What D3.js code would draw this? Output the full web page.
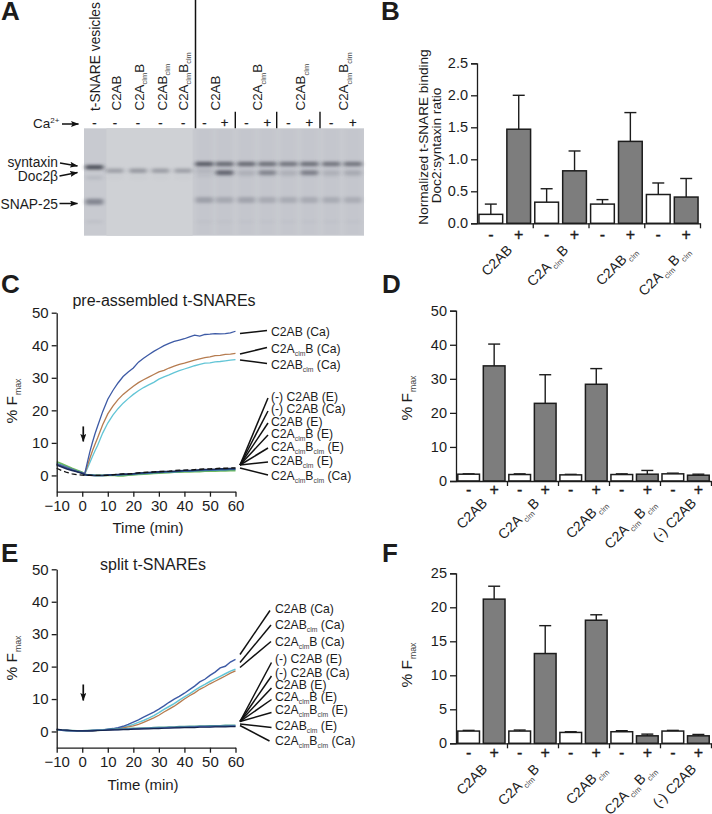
<!DOCTYPE html>
<html><head><meta charset="utf-8">
<script src="https://d3js.org/d3.v7.min.js"></script>
<style>
html,body{margin:0;padding:0;background:#fff}
svg{display:block}
text{font-family:"Liberation Sans",Arial,sans-serif;fill:#1c1c1c}
</style></head><body><svg id="fig" width="712" height="814"></svg>
<script>
// ---------- data ----------
const signs = ["-","+"];
const groupsB = ["C2AB","C2A_clm_B","C2AB_clm_","C2A_clm_B_clm_"];
const groupsDF = ["C2AB","C2A_clm_B","C2AB_clm_","C2A_clm_B_clm_","(-) C2AB"];
const valuesB = [0.14,1.47,0.33,0.82,0.30,1.28,0.45,0.41];
const errTopB = [0.30,2.00,0.54,1.13,0.37,1.73,0.63,0.70];
const valuesD = [2.0,33.8,1.9,22.8,1.8,28.4,1.9,2.0,2.1,1.7];
const errTopD = [2.1,40.2,2.1,31.2,1.95,33.0,2.1,3.1,2.3,2.0];
const valuesF = [1.8,21.2,1.8,13.2,1.6,18.1,1.7,1.1,1.8,1.1];
const errTopF = [1.9,23.1,1.95,17.3,1.7,18.9,1.85,1.35,1.9,1.3];

const timeC = [-10,-8,-6,-4,-2,0,1,2,3,4,5,6,8,10,12,14,16,18,20,22,24,26,28,30,32,34,36,38,40,42,44,46,48,50,52,54,56,58,60];
const c2abCaC = [3.5,2.9,2.3,1.8,1.2,.8,.6,4,7.3,10.2,12.8,15.1,19.6,23.4,26.1,28.4,30.4,31.8,33,34.8,36,37.1,38.1,39,39.9,40.6,41.2,41.6,42,42.6,43.1,42.8,43.3,43.4,43.6,43.5,43.6,43.8,44.3];
const c2aclmBCaC = [3.5,2.9,2.3,1.8,1.2,.8,.5,2.9,5.3,7.6,9.6,11.5,15.6,18.9,21.3,23.3,24.9,26.2,27.4,28.5,29.4,30.2,31,31.8,32.3,33,33.6,34.1,34.5,35,35.4,35.8,36.2,36.4,36.8,36.9,37.2,37.3,37.5];
const c2abclmCaC = [3.5,2.9,2.3,1.8,1.2,.8,.4,2.1,4,5.8,7.6,9.2,13,16.1,18.5,20.5,22.2,23.6,24.9,26,27,27.8,28.6,29.6,30.3,30.9,31.6,32.2,32.7,33.2,33.7,34.1,34.5,34.6,34.9,35,35.2,35.4,35.6];
const lowGreenC = [4.2,3.6,2.9,2.2,1.6,1,.4,.2,.1,.1,0,0,0,0,.1,-.1,-.1,.1,.2,.3,.4,.5,.6,.7,.8,.9,1,1,1.1,1.1,1.2,1.2,1.3,1.3,1.3,1.4,1.4,1.5,1.5];
const lowBlueC = [3.7,3.1,2.5,1.9,1.3,.8,.3,.2,.1,.1,0,0,0,.1,.2,.1,.2,.3,.4,.5,.6,.7,.8,.9,1,1.1,1.1,1.2,1.3,1.3,1.4,1.5,1.5,1.6,1.6,1.7,1.7,1.8,1.8];
const lowNavyC = [3.2,2.6,2,1.5,1.1,.6,.2,.1,.1,0,0,0,0,.1,.2,.3,.4,.4,.5,.7,.8,.9,1,1.1,1.2,1.2,1.3,1.4,1.5,1.5,1.6,1.7,1.8,1.8,1.9,2,2,2.1,2.1];
const lowDashC = [2.2,1.5,.9,.5,.2,.1,0,0,0,0,0,0,0,0,.2,.4,.5,.5,.6,.8,.9,1,1.1,1.2,1.2,1.3,1.5,1.6,1.6,1.7,1.8,1.9,2,2,2.1,2.2,2.2,2.3,2.3];

const timeE = [-10,-8,-6,-4,-2,0,2,4,6,8,10,12,14,16,18,20,22,24,26,28,30,32,34,36,38,40,42,44,46,48,50,52,54,56,58,60];
const c2abCaE = [.6,.4,.3,.2,.2,.2,.2,.3,.4,.5,.7,.9,1.2,1.6,2.2,2.9,3.6,4.4,5.2,6,6.9,7.9,9,10,10.8,11.8,12.9,14,15.3,16.1,17.3,18.3,19.6,20.1,21.4,22.2];
const c2abclmCaE = [.5,.4,.3,.2,.2,.1,.2,.2,.3,.4,.6,.8,1,1.3,1.7,2.2,2.8,3.4,4.1,4.9,5.8,6.8,7.7,8.6,9.7,10.7,11.6,12.7,13.7,14.5,15.4,16.2,17,17.8,18.6,19.2];
const c2aclmBCaE = [.5,.4,.3,.2,.2,.1,.1,.2,.3,.4,.5,.6,.8,1.1,1.4,1.7,2.2,2.8,3.5,4.2,5,6,6.9,7.8,8.9,10,11,11.9,13,13.8,14.7,15.5,16.3,17.1,18,18.7];
const lowTealE = [.5,.4,.3,.3,.2,.2,.3,.4,.4,.5,.6,.7,.8,.8,.9,1,1,1.1,1.1,1.2,1.3,1.3,1.4,1.4,1.5,1.5,1.6,1.6,1.7,1.7,1.8,1.8,1.8,1.9,1.9,1.9];
const lowBlueE = [.6,.4,.3,.2,.2,.2,.2,.3,.4,.4,.5,.5,.6,.7,.7,.8,.9,.9,1,1,1.1,1.1,1.2,1.2,1.3,1.3,1.4,1.4,1.5,1.5,1.5,1.6,1.6,1.6,1.7,1.7];
const lowNavyE = [.7,.5,.4,.3,.2,.2,.2,.2,.3,.3,.4,.5,.5,.6,.6,.7,.7,.8,.8,.9,.9,1,1,1.1,1.1,1.2,1.2,1.2,1.3,1.3,1.3,1.4,1.4,1.4,1.5,1.5];

const labelsCTop = ["C2AB (Ca)","C2A_clm_B (Ca)","C2AB_clm_ (Ca)"];
const labelsCLow = ["(-) C2AB (E)","(-) C2AB (Ca)","C2AB (E)","C2A_clm_B (E)","C2A_clm_B_clm_ (E)","C2AB_clm_ (E)","C2A_clm_B_clm_ (Ca)"];
const labelsETop = ["C2AB (Ca)","C2AB_clm_ (Ca)","C2A_clm_B (Ca)"];
const labelsELow = labelsCLow;

const laneNames = ["t-SNARE vesicles","C2AB","C2A_clm_B","C2AB_clm_","C2A_clm_B_clm_"];
const laneNamesRight = ["C2AB","C2A_clm_B","C2AB_clm_","C2A_clm_B_clm_"];
const caSigns = ["-","-","-","-","-","-","+","-","+","-","+","-","+"];
const lanePos   = [3.7,11,19.3,27.3,35.4,43,50.2,58,65.5,73,80.5,88.3,96];
const syntaxinI = [.8,0,0,0,0,.72,.62,.62,.58,.55,.58,.55,.55];
const doc2I     = [0,.33,.38,.35,.33,.12,.72,.15,.48,.15,.52,.15,.2];
const snapI     = [.62,0,0,0,0,.36,.28,.32,.26,.25,.26,.25,.24];
const faintTopI = [.18,.03,.03,.03,.03,.1,.1,.08,.08,.08,.08,.08,.08];
const faintLowI = [.12,0,0,0,0,.06,.06,.05,.05,.05,.05,.05,.05];
const bandNames = ["syntaxin","Doc2β","SNAP-25"];

// ---------- helpers ----------
const svg = d3.select("#fig");
const INK = "#1c1c1c";

function rich(sel, str, size, gap=0) {
  const parts = str.split("_");
  sel.text(null);
  const subS = size*0.56, drop = size*0.28;
  let lowered = false;
  parts.forEach((p,i)=>{
    if(p==="" ) return;
    const t = sel.append("tspan").text(p);
    if(i%2===1){ t.attr("font-size",subS).attr("dy",drop).attr("dx",gap).style("fill","#444"); lowered=true; }
    else if(lowered){ t.attr("dy",-drop).attr("dx",gap); lowered=false; }
  });
  return sel;
}
function label(x,y,str,size,opt={}){
  const t = svg.append("text").attr("transform",`translate(${x},${y}) rotate(${opt.rot||0})`)
    .attr("font-size",size).attr("text-anchor",opt.anchor||"start");
  if(opt.bold) t.attr("font-weight","bold");
  rich(t,str,size,opt.gap||0);
  return t;
}
function seg(x1,y1,x2,y2,w=1.5){
  svg.append("line").attr("x1",x1).attr("y1",y1).attr("x2",x2).attr("y2",y2)
    .attr("stroke","#111").attr("stroke-width",w);
}
svg.append("defs").html(`
 <marker id="ah" viewBox="0 0 8 6" refX="7.5" refY="3" markerWidth="8" markerHeight="6" markerUnits="userSpaceOnUse" orient="auto"><path d="M0,0L8,3L0,6L1.5,3z" fill="#111"/></marker>
 <filter id="blurBand" x="-30%" y="-200%" width="160%" height="500%"><feGaussianBlur stdDeviation="1.9 1.4"/></filter>
 <filter id="blurStreak" x="-100%" y="-5%" width="300%" height="110%"><feGaussianBlur stdDeviation="1.4 0"/></filter>`);
function arrow(x1,y1,x2,y2,w=1.5){
  svg.append("line").attr("x1",x1).attr("y1",y1).attr("x2",x2).attr("y2",y2)
   .attr("stroke","#111").attr("stroke-width",w).attr("marker-end","url(#ah)");
}
function styleAxis(g,size){
  g.selectAll("path,line").attr("stroke",INK).attr("stroke-width",1.3);
  g.selectAll("text").attr("font-size",size).style("fill",INK)
   .attr("font-family",'"Liberation Sans",Arial,sans-serif');
}
function yTitleFmax(x,y){
  label(x,y,"% F_max_",15.5,{rot:-90,anchor:"middle",gap:1});
}

// ---------- bar panels ----------
function barPanel(cfg){
  const {values,errTop,groups,yMax,ticks,fmt,x0,x1,yTop,yBottom,signY,labelY,labelEnds,fs} = cfg;
  const y = d3.scaleLinear().domain([0,yMax]).range([yBottom,yTop]);
  const idx = d3.range(values.length);
  const x = d3.scaleBand().domain(idx).range([x0,x1]).paddingInner(.15).paddingOuter(.07);
  const gx = d3.scaleLinear().domain([0,groups.length]).range([x0,x1]);
  const g = svg.append("g");
  g.selectAll(".err").data(idx).join("line")
    .attr("x1",i=>x(i)+x.bandwidth()/2).attr("x2",i=>x(i)+x.bandwidth()/2)
    .attr("y1",i=>y(values[i])).attr("y2",i=>y(errTop[i]))
    .attr("stroke",INK).attr("stroke-width",1.4);
  g.selectAll(".cap").data(idx).join("line")
    .attr("x1",i=>x(i)+x.bandwidth()/2-6).attr("x2",i=>x(i)+x.bandwidth()/2+6)
    .attr("y1",i=>y(errTop[i])).attr("y2",i=>y(errTop[i]))
    .attr("stroke",INK).attr("stroke-width",1.4);
  g.selectAll("rect").data(idx).join("rect")
    .attr("x",i=>x(i)).attr("width",x.bandwidth())
    .attr("y",i=>y(values[i])).attr("height",i=>y(0)-y(values[i]))
    .attr("fill",i=>i%2?"#7d7d7d":"#fff").attr("stroke",INK).attr("stroke-width",1.5);
  const ay = svg.append("g").attr("transform",`translate(${x0},0)`)
    .call(d3.axisLeft(y).tickValues(ticks).tickFormat(fmt).tickSize(6).tickPadding(3));
  styleAxis(ay,fs);
  const ax = svg.append("g").attr("transform",`translate(0,${yBottom})`)
    .call(d3.axisBottom(gx).tickValues(d3.range(1,groups.length+1)).tickFormat("").tickSize(5).tickSizeOuter(0));
  styleAxis(ax,fs);
  svg.selectAll(null).data(idx).join("text")
    .attr("x",i=>x(i)+x.bandwidth()/2).attr("y",signY)
    .attr("text-anchor","middle").attr("font-size",16).attr("stroke",INK).attr("stroke-width",.35)
    .text(i=>signs[i%2]);
  groups.forEach((n,i)=>{
    label(labelEnds[i],labelY,n,14,{rot:-45,anchor:"end",gap:1.2});
  });
}

barPanel({values:valuesB,errTop:errTopB,groups:groupsB,yMax:2.5,ticks:[0,.5,1,1.5,2,2.5],fmt:d3.format(".1f"),
  x0:477,x1:700,yTop:63.3,yBottom:223.3,signY:240,labelY:251,labelEnds:[513,569,637,690],fs:14.5});
barPanel({values:valuesD,errTop:errTopD,groups:groupsDF,yMax:50,ticks:[0,10,20,30,40,50],fmt:d3.format("d"),
  x0:456,x1:711,yTop:310.7,yBottom:481,signY:495,labelY:504,labelEnds:[488,540,607,656,697],fs:14.5});
barPanel({values:valuesF,errTop:errTopF,groups:groupsDF,yMax:25,ticks:[0,5,10,15,20,25],fmt:d3.format("d"),
  x0:456,x1:711,yTop:573.3,yBottom:743.3,signY:758,labelY:770,labelEnds:[488,540,607,656,697],fs:14.5});
label(428,137,"Normalized t-SNARE binding",13.6,{rot:-90,anchor:"middle"});
label(441,145.5,"Doc2:syntaxin ratio",13.6,{rot:-90,anchor:"middle"});
yTitleFmax(412,398);
yTitleFmax(412,665);

// ---------- kinetics panels ----------
function linePanel(cfg){
  const {time,series,yTop,yBottom,title,titleX,titleY,xTitleX,xTitleY} = cfg;
  const x = d3.scaleLinear().domain([-10,60]).range([56.7,235.5]);
  const y = d3.scaleLinear().domain([-5,50]).range([yBottom,yTop]);
  const line = d3.line().x((d,i)=>x(time[i])).y(d=>y(d));
  series.forEach(s=>{
    svg.append("path").attr("d",line(s.v)).attr("fill","none").attr("stroke",s.c)
      .attr("stroke-width",s.w||1.3).attr("stroke-dasharray",s.dash||null);
  });
  const ax = svg.append("g").attr("transform",`translate(0,${yBottom})`)
    .call(d3.axisBottom(x).tickValues(d3.range(-10,61,10)).tickSize(5).tickSizeOuter(0).tickPadding(4));
  styleAxis(ax,15);
  const ay = svg.append("g").attr("transform",`translate(56.7,0)`)
    .call(d3.axisLeft(y).tickValues(d3.range(0,51,10)).tickSize(5).tickSizeOuter(0).tickPadding(3));
  styleAxis(ay,15);
  label(titleX,titleY,title,16,{anchor:"middle"});
  label(xTitleX,xTitleY,"Time (min)",15,{anchor:"middle"});
  arrow(x(0.4),y(0)-(cfg.arrowTop),x(0.4),y(0)-(cfg.arrowBottom),1.7);
}
linePanel({time:timeC,yTop:312.7,yBottom:491.7,title:"pre-assembled t-SNAREs",titleX:164,titleY:305.5,xTitleX:148,xTitleY:533,arrowTop:49,arrowBottom:34,
 series:[
  {v:lowGreenC,c:"#6dbb5e",w:1.8},
  {v:lowBlueC,c:"#3f7fb0",w:1.6},
  {v:c2abclmCaC,c:"#62c5d6"},
  {v:c2aclmBCaC,c:"#b67c50"},
  {v:c2abCaC,c:"#3d5aa5"},
  {v:lowNavyC,c:"#1a2c5c",w:1.6},
  {v:lowDashC,c:"#111",w:1.3,dash:"5 3"}
 ]});
linePanel({time:timeE,yTop:569.3,yBottom:747.7,title:"split t-SNAREs",titleX:153,titleY:569.5,xTitleX:143,xTitleY:790,arrowTop:47,arrowBottom:31,
 series:[
  {v:c2abclmCaE,c:"#62c5d6",w:1.5},
  {v:c2aclmBCaE,c:"#b67c50",w:1.3},
  {v:c2abCaE,c:"#3d5aa5",w:1.4},
  {v:lowTealE,c:"#4f9f8f",w:1.5},
  {v:lowBlueE,c:"#3d5aa5",w:1.5},
  {v:lowNavyE,c:"#14244e",w:1.2}
 ]});
yTitleFmax(17,401);
yTitleFmax(17,658);

// C labels + leaders
const cTopY=[336,352.5,369], cLowY=[400.5,413,425.5,437.5,450.5,464.5,480];
labelsCTop.forEach((s,i)=>label(271,cTopY[i],s,12.2));
labelsCLow.forEach((s,i)=>label(271,cLowY[i],s,12.2));
seg(240,333.5,267,330.5); seg(240,354,267,347.5); seg(240,360,267,363.5);
[398,411,423,435,448,462].forEach(yy=>seg(240,465,268,yy));
seg(240,468,268,475);
// E labels + leaders
const eTopY=[612.5,629,645.5], eLowY=[663,677,689,701,714,730,745];
labelsETop.forEach((s,i)=>label(275,eTopY[i],s,12.2));
labelsELow.forEach((s,i)=>label(275,eLowY[i],s,12.2));
seg(240,654.5,270,610.5); seg(240,662.5,271,625); seg(240,667.5,271,641.5);
[662.5,676,688,699.5,712.5].forEach(yy=>seg(240,721.5,271.5,yy));
seg(240,724,271.5,727.5); seg(240,725.5,269.5,741);

// ---------- panel letters ----------
[["A",1,20],["B",381,20],["C",1,293],["D",382,293],["E",1,562],["F",382,562]]
 .forEach(d=>label(d[1],d[2],d[0],26,{bold:true}));

// ---------- gel (panel A) ----------
const gelX = d3.scaleLinear().domain([0,100]).range([84,364]);
const gelY = d3.scaleLinear().domain([0,100]).range([128.3,235.7]);
const gel = svg.append("g");
gel.append("rect").attr("x",gelX(0)).attr("y",gelY(0)).attr("width",gelX(100)-gelX(0)).attr("height",gelY(100)-gelY(0)).attr("fill","#c8cad0");
gel.append("rect").attr("x",gelX(8)).attr("y",gelY(0)).attr("width",gelX(38.8)-gelX(8)).attr("height",gelY(100)-gelY(0)).attr("fill","#cfd1d5");
const clipG = gel.append("g");
clipG.selectAll(".streak").data(lanePos.slice(5)).join("rect")
  .attr("x",d=>gelX(d)-8.5).attr("width",17).attr("y",gelY(1)).attr("height",gelY(99)-gelY(1))
  .attr("fill","#bfc1c8").attr("opacity",.35).attr("filter","url(#blurStreak)");
function bands(vals,mig,h,col,w){
  clipG.selectAll(null).data(d3.range(vals.length).filter(i=>vals[i]>0)).join("rect")
    .attr("x",i=>gelX(lanePos[i])-w/2).attr("width",w)
    .attr("y",i=>gelY(mig(i))-h/2).attr("height",h).attr("rx",2)
    .attr("fill",col).attr("opacity",i=>vals[i]).attr("filter","url(#blurBand)");
}
bands(faintLowI,()=>87,3,"#767a86",17);
bands(faintTopI,i=>i<5?46:44,4,"#767a86",17);
bands(snapI,i=>i===0?68.5:66.8,6,"#5b5f6c",18);
bands(doc2I,i=>i>5?41.3:39.5,4.6,"#3e414d",18);
bands(syntaxinI,i=>i===0?36.3:33.2,4.6,"#33363f",18.5);

// gel labels
label(100,111,laneNames[0],13.8,{rot:-90});
[121,143.6,166.7,187.7].forEach((xx,i)=>label(xx,110.5,laneNames[i+1],13.4,{rot:-90}));
[220,262,305,348].forEach((xx,i)=>label(xx,110.5,laneNamesRight[i],13.4,{rot:-90}));
seg(195.5,0,195.5,128.3,1.5);
[235.3,276.7,320].forEach(xx=>seg(xx,111.7,xx,128.3,1.4));
svg.selectAll(null).data(caSigns).join("text")
  .attr("x",(d,i)=>gelX(lanePos[i])).attr("y",127).attr("text-anchor","middle").attr("font-size",13)
  .attr("stroke",INK).attr("stroke-width",.3).text(d=>d);
const ca = svg.append("text").attr("x",33).attr("y",127.5).attr("font-size",13.5);
ca.append("tspan").text("Ca");
ca.append("tspan").text("2+").attr("font-size",8).attr("dy",-5);
arrow(62,124,78.5,124);
label(58,167,bandNames[0],13.8,{anchor:"end"});
label(58,181,bandNames[1],13.8,{anchor:"end"});
label(58,208.5,bandNames[2],13.8,{anchor:"end"});
arrow(60,163,77.5,166);
arrow(59.5,176,77.5,172.5);
arrow(59.5,203.5,77.5,203.5);
</script></body></html>
